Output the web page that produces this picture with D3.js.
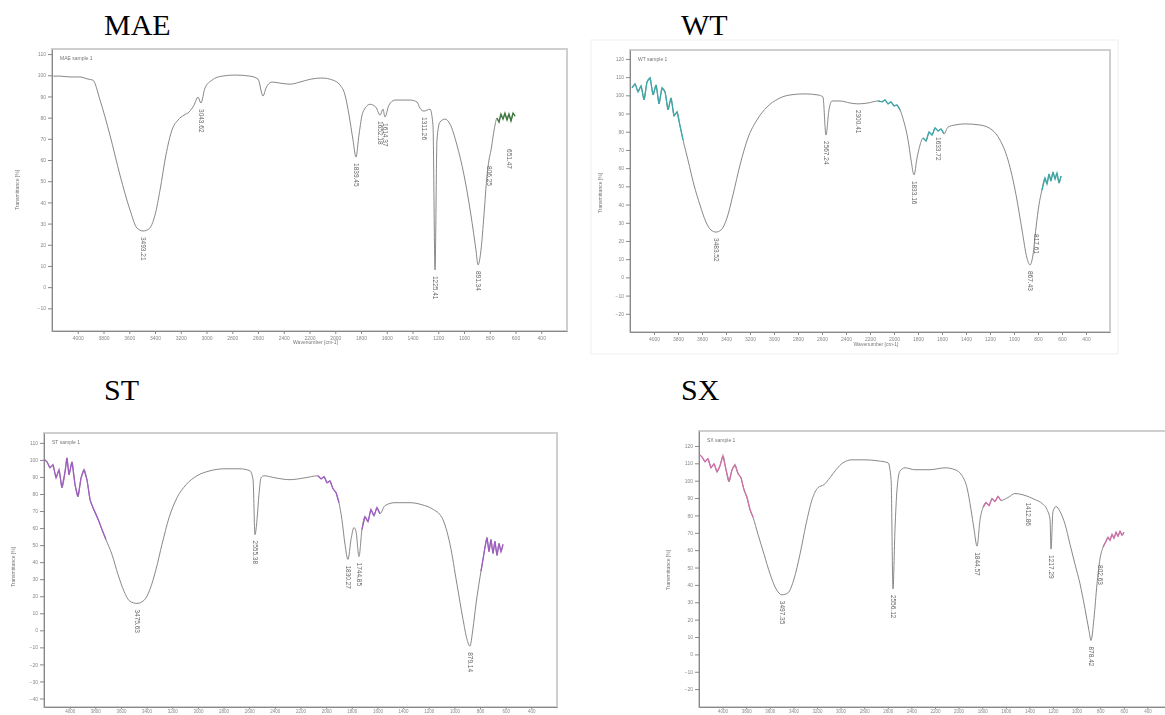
<!DOCTYPE html>
<html>
<head>
<meta charset="utf-8">
<script src="https://cdn.jsdelivr.net/npm/d3@7"></script>
<style>
  body { margin: 0; background: #fff; }
  svg { display: block; }
  .title { font-family: "Liberation Serif", "Times New Roman", serif; font-size: 30px; fill: #000; }
  .tiny { font-family: "Liberation Sans", Arial, sans-serif; font-size: 5px; fill: #777; }
  .peak { font-family: "Liberation Sans", Arial, sans-serif; font-size: 6.5px; fill: #666; }
  .axis path, .axis line { stroke: #888; }
  .axis text { font-family: "Liberation Sans", Arial, sans-serif; font-size: 5px; fill: #888; }
  .axis.low text { font-size: 4.5px; }
</style>
</head>
<body>
<svg id="chart" width="1165" height="715"></svg>
<script>
// wavenumber ticks (cm-1), same on all four spectra
var xTicks = [4000, 3800, 3600, 3400, 3200, 3000, 2800, 2600, 2400, 2200, 2000, 1800, 1600, 1400, 1200, 1000, 800, 600, 400];

var maeYTicks = [110, 100, 90, 80, 70, 60, 50, 40, 30, 20, 10, 0, -10];
var wtYTicks  = [120, 110, 100, 90, 80, 70, 60, 50, 40, 30, 20, 10, 0, -10, -20];
var stYTicks  = [110, 100, 90, 80, 70, 60, 50, 40, 30, 20, 10, 0, -10, -20, -30, -40];
var sxYTicks  = [120, 110, 100, 90, 80, 70, 60, 50, 40, 30, 20, 10, 0, -10, -20];

// [wavenumber, %T]
var maeData = [
  [4190, 99.6], [4138, 99.6], [4060, 99.2], [3983, 99.2], [3920, 98.2], [3882, 97.7], [3827, 88.3], [3750, 71.8],
  [3672, 52.9], [3594, 36.4], [3540, 27.9], [3493, 26.5], [3447, 27.5], [3400, 34], [3361, 45.8], [3315, 62.4],
  [3268, 74.2], [3221, 78.9], [3175, 81.2], [3136, 82.6], [3097, 85.9], [3066, 89.7], [3043, 86.9], [3012, 94],
  [2957, 97.7], [2880, 99.6], [2779, 100.1], [2662, 99.6], [2600, 98.2], [2561, 90.2], [2538, 94], [2491, 96.8],
  [2429, 96.3], [2351, 95.8], [2274, 96.8], [2188, 98.2], [2103, 98.7], [2018, 97.7], [1963, 95.4], [1924, 90.7],
  [1893, 81.2], [1862, 69.4], [1839, 61.4], [1816, 71.8], [1785, 82.6], [1730, 86.3], [1684, 84.9], [1652, 81.2],
  [1629, 84], [1614, 80.3], [1583, 85.9], [1536, 88.3], [1420, 88.3], [1365, 87.4], [1342, 84.5], [1311, 83.1],
  [1264, 84], [1241, 76.5], [1225, 8.1], [1210, 69.4], [1187, 77.9], [1148, 79.3], [1109, 77], [1055, 67.1],
  [1000, 52.9], [946, 34], [907, 17.5], [891, 10.5], [868, 17.5], [845, 34], [821, 52.9], [806, 60], [790, 64.7],
  [775, 70.8], [759, 76.5], [744, 79.8], [728, 77.9], [713, 81.7], [697, 79.3], [682, 82.1], [666, 78.9],
  [651, 81.7], [635, 78.4], [619, 82.1], [604, 80.7]
];
var wtData = [
  [4183, 104.1], [4158, 106.3], [4133, 101.9], [4108, 105.2], [4083, 97.5], [4058, 107.4], [4033, 109.6], [4008, 100.2],
  [3983, 105.7], [3958, 95.3], [3933, 104.1], [3908, 101.9], [3883, 92], [3858, 98.6], [3833, 88.7], [3808, 90.9],
  [3783, 83.2], [3758, 75.5], [3717, 64.5], [3667, 50.8], [3617, 39.8], [3567, 30.4], [3525, 26], [3483, 24.9],
  [3442, 26], [3392, 32.6], [3342, 45.3], [3283, 61.8], [3217, 76.6], [3142, 86.5], [3058, 93.6], [2967, 98],
  [2867, 100.2], [2742, 100.8], [2633, 100.2], [2592, 99.1], [2567, 78.2], [2542, 92], [2517, 96.9], [2450, 96.9],
  [2367, 95.8], [2300, 95.3], [2217, 95.8], [2133, 96.9], [2100, 96.4], [2075, 97.5], [2050, 95.3], [2025, 96.4],
  [2000, 94.2], [1975, 94.7], [1950, 92], [1917, 85.4], [1883, 75.5], [1858, 64.5], [1833, 56.3], [1808, 65.6],
  [1783, 72.7], [1758, 76.6], [1733, 74.9], [1708, 79.9], [1683, 78.2], [1658, 82.1], [1633, 80.4], [1608, 81.5],
  [1583, 78.8], [1550, 82.6], [1492, 83.7], [1408, 84.3], [1283, 83.7], [1183, 81], [1117, 75.5], [1050, 64.5],
  [983, 45.3], [933, 26], [892, 10.7], [867, 6.8], [842, 12.3], [817, 27.1], [792, 39.8], [767, 48], [742, 54.6],
  [725, 51.3], [708, 56.8], [692, 52.9], [675, 57.9], [658, 54], [642, 57.3], [625, 51.8], [608, 55.7]
];
var stData = [
  [4195, 100.1], [4177, 98.9], [4153, 95.4], [4130, 97.1], [4106, 89.5], [4083, 94.2], [4060, 83.7], [4036, 93],
  [4021, 101.2], [4005, 91.3], [3982, 98.9], [3958, 85.4], [3935, 78.4], [3911, 89.5], [3888, 94.2], [3865, 88.4],
  [3841, 76.7], [3818, 72], [3794, 67.9], [3771, 63.8], [3748, 59.1], [3717, 53.3], [3670, 44.5], [3623, 32.8],
  [3576, 22.9], [3529, 17], [3475, 15.8], [3420, 17.6], [3374, 24], [3327, 35.7], [3280, 50.4], [3225, 66.1],
  [3163, 77.8], [3093, 85.4], [3007, 90.7], [2906, 93.6], [2789, 94.8], [2672, 94.8], [2594, 93.6], [2570, 88.4],
  [2555, 56.2], [2539, 65], [2524, 79.6], [2508, 89.5], [2485, 90.7], [2399, 89.5], [2282, 88.4], [2165, 89.5],
  [2064, 90.7], [2040, 88.9], [2016, 90.1], [1993, 86.6], [1970, 87.7], [1947, 83.1], [1923, 80.8], [1900, 74.9],
  [1877, 65], [1853, 50.4], [1830, 41.6], [1806, 53.3], [1783, 60.3], [1767, 58], [1744, 43.3], [1721, 59.1],
  [1697, 66.7], [1674, 63.8], [1651, 70.8], [1627, 67.3], [1604, 72], [1580, 68.5], [1541, 73.2], [1463, 74.9],
  [1346, 74.9], [1253, 73.7], [1175, 71.4], [1097, 66.1], [1034, 50.4], [980, 27], [933, 6.5], [902, -5.2],
  [879, -9.3], [856, 0.6], [832, 15.3], [809, 27], [793, 34.6], [777, 41.6], [762, 48.6], [746, 54.4], [730, 46.2],
  [715, 53.3], [699, 45.1], [684, 52.2], [668, 44], [652, 51], [637, 46.2], [621, 50.4]
];
var sxData = [
  [4195, 114.9], [4175, 113.7], [4149, 110.9], [4124, 112.6], [4098, 107.4], [4073, 109.7], [4047, 105.1], [4022, 108.6],
  [3997, 114.3], [3971, 106.3], [3946, 99.4], [3920, 106.3], [3895, 109.1], [3869, 104], [3844, 101.7], [3819, 94.9],
  [3793, 90.3], [3768, 83.4], [3742, 78.9], [3700, 69.1], [3649, 57.7], [3598, 46.3], [3547, 37.7], [3497, 34.3],
  [3446, 35.4], [3395, 43.4], [3344, 57.7], [3293, 74.9], [3242, 89.1], [3191, 96], [3141, 97.7], [3090, 101.7],
  [3039, 106.3], [2980, 110.3], [2903, 112], [2793, 112], [2683, 111.4], [2598, 110.3], [2572, 100.6], [2556, 37.7],
  [2539, 72], [2522, 94.9], [2496, 105.7], [2454, 107.4], [2369, 106.3], [2242, 106.3], [2115, 107.4], [2030, 106.3],
  [1971, 102.9], [1929, 96], [1895, 83.4], [1869, 72], [1844, 62.3], [1818, 77.7], [1793, 84.6], [1768, 87.4],
  [1742, 85.7], [1717, 89.7], [1692, 88], [1666, 90.9], [1641, 88.6], [1581, 90.3], [1522, 92.6], [1463, 92],
  [1412, 90.9], [1353, 89.1], [1293, 86.9], [1251, 83.4], [1225, 77.7], [1217, 60.6], [1200, 82.3], [1174, 85.1],
  [1141, 82.3], [1098, 74.9], [1056, 63.4], [1014, 52], [971, 40.6], [929, 26.3], [895, 13.7], [878, 8], [853, 20.6],
  [827, 40.6], [802, 54.9], [776, 61.7], [751, 65.1], [734, 67.4], [717, 65.7], [700, 69.1], [683, 66.9],
  [666, 70.3], [649, 68], [632, 70.9], [615, 68.6], [598, 70.3]
];

// labelled peaks [wavenumber, %T]
var maePeaks = [[3493.21, 26.5], [3043.62, 86.9], [1839.45, 61.4], [1652.18, 81.2], [1614.37, 80.3], [1311.26, 83.1], [1225.41, 8.1], [891.34, 10.5], [806.25, 60], [651.47, 68]];
var wtPeaks  = [[3483.52, 24.9], [2567.24, 78.2], [2300.41, 95.3], [1833.16, 56.3], [1633.72, 80.4], [867.43, 6.8], [817.61, 27.1]];
var stPeaks  = [[3475.63, 15.8], [2555.38, 56.2], [1830.27, 41.6], [1744.85, 43.3], [879.14, -9.3]];
var sxPeaks  = [[3497.35, 34.3], [2556.12, 37.7], [1844.57, 62.3], [1412.86, 90.9], [1217.29, 60.6], [878.42, 8], [802.63, 54.9]];

// noisy stretches drawn in the sample colour [from, to] cm-1
var maeNoise = [[746, 600]];
var wtNoise  = [[4200, 3750], [2140, 1945], [1765, 1575], [770, 600]];
var stNoise  = [[4200, 3710], [2070, 1895], [1725, 1575], [800, 600]];
var sxNoise  = [[4200, 3740], [1800, 1635], [780, 590]];

var svg = d3.select("#chart");
var defs = svg.append("defs");
defs.append("filter").attr("id", "soft")
    .append("feGaussianBlur").attr("stdDeviation", 0.45);

// faint outline of the pasted WT picture
svg.append("rect")
   .attr("x", 591).attr("y", 40).attr("width", 527).attr("height", 314)
   .attr("fill", "none").attr("stroke", "#efefef");

var panels = [
  {name: "MAE", tx: 104, ty: 35, box: [52, 49, 567, 331], yDom: [-20.7, 112.4], yTicks: maeYTicks,
   data: maeData, peaks: maePeaks, noise: maeNoise, col: "#3e7a3e", ylab: [19, 190], xlab: 344, legend: "MAE sample 1", low: false},
  {name: "WT", tx: 681, ty: 35, box: [630, 50, 1110, 332], yDom: [-30, 124.9], yTicks: wtYTicks,
   data: wtData, peaks: wtPeaks, noise: wtNoise, col: "#3aa9a9", ylab: [602, 193], xlab: 346, legend: "WT sample 1", low: false},
  {name: "ST", tx: 104, ty: 400, box: [44, 433, 557, 707], yDom: [-45, 115.8], yTicks: stYTicks,
   data: stData, peaks: stPeaks, noise: stNoise, col: "#a05cc4", ylab: [15, 567], xlab: null, legend: "ST sample 1", low: true},
  {name: "SX", tx: 681, ty: 400, box: [699, 431, 1171, 707], yDom: [-30.3, 128.6], yTicks: sxYTicks,
   data: sxData, peaks: sxPeaks, noise: sxNoise, col: "#cf6fa8", ylab: [670, 570], xlab: null, legend: "SX sample 1", low: true}
];

panels.forEach(function(p) {
  var x0 = p.box[0], y0 = p.box[1], x1 = p.box[2], y1 = p.box[3];

  svg.append("text").attr("class", "title")
     .attr("x", p.tx).attr("y", p.ty).text(p.name);

  var g = svg.append("g").attr("filter", "url(#soft)");

  var x = d3.scaleLinear().domain([4200, 200]).range([x0, x1]);
  var y = d3.scaleLinear().domain(p.yDom).range([y1, y0]);

  // light frame
  g.append("rect")
   .attr("x", x0).attr("y", y0).attr("width", x1 - x0).attr("height", y1 - y0)
   .attr("fill", "none").attr("stroke", "#cfcfcf").attr("stroke-width", 2);

  g.append("g").attr("class", "axis")
   .attr("transform", "translate(" + x0 + ",0)")
   .call(d3.axisLeft(y).tickValues(p.yTicks).tickSize(4).tickSizeOuter(0).tickPadding(2));

  // the lower two pictures are cut just under their tick labels
  g.append("g").attr("class", p.low ? "axis low" : "axis")
   .attr("transform", "translate(0," + y1 + ")")
   .call(d3.axisBottom(x).tickValues(xTicks).tickFormat(d3.format("d"))
         .tickSize(p.low ? 2 : 3).tickSizeOuter(0).tickPadding(p.low ? 0.5 : 2));

  g.append("text").attr("class", "tiny")
   .attr("transform", "translate(" + p.ylab[0] + "," + p.ylab[1] + ") rotate(-90)")
   .attr("text-anchor", "middle").text("Transmittance [%]");

  if (p.xlab) {
    g.append("text").attr("class", "tiny")
     .attr("x", (x0 + x1) / 2 + 6).attr("y", p.xlab)
     .attr("text-anchor", "middle").text("Wavenumber [cm-1]");
  }

  g.append("text").attr("class", "tiny")
   .attr("x", x0 + 8).attr("y", y0 + 11).text(p.legend);

  var line = d3.line()
      .x(function(d) { return x(d[0]); })
      .y(function(d) { return y(d[1]); })
      .curve(d3.curveMonotoneX);

  var jagged = d3.line()
      .x(function(d) { return x(d[0]); })
      .y(function(d) { return y(d[1]); });

  g.append("path").datum(p.data)
   .attr("fill", "none").attr("stroke", "#7a7a7a").attr("stroke-width", 0.9)
   .attr("d", line);

  p.noise.forEach(function(r) {
    var seg = p.data.filter(function(d) { return d[0] <= r[0] && d[0] >= r[1]; });
    g.append("path").datum(seg)
     .attr("fill", "none").attr("stroke", p.col).attr("stroke-width", 1.3)
     .attr("d", jagged);
  });

  g.selectAll(".peak" + p.name)
   .data(p.peaks)
   .enter().append("text")
   .attr("class", "peak")
   .attr("transform", function(d) { return "translate(" + (x(d[0]) - 2.3) + "," + (y(d[1]) + 6) + ") rotate(90)"; })
   .text(function(d) { return d3.format(".2f")(d[0]); });
});
</script>
</body>
</html>
